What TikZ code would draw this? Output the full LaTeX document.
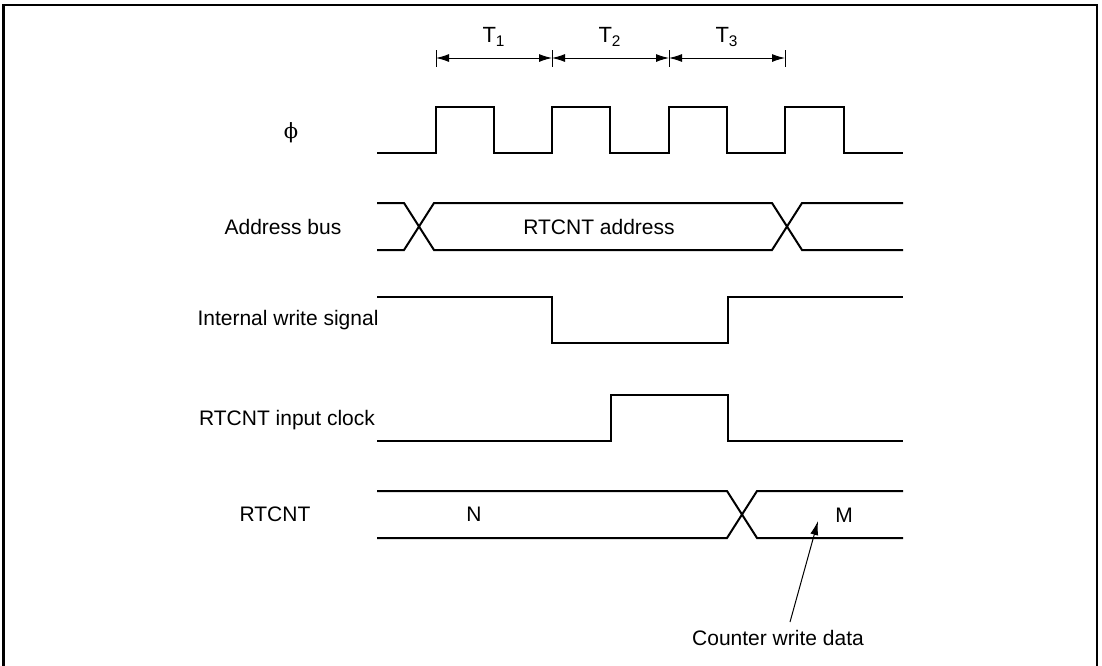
\documentclass[tikz,border=0pt]{standalone}
\usepackage{fontspec}
\setmainfont{Liberation Sans}
\newfontfamily\phifont{DejaVu Serif}
\usetikzlibrary{arrows.meta}
\begin{document}
\begin{tikzpicture}[x=0.5pt,y=-0.5pt,
  sig/.style={line width=1pt,line join=miter},
  lbl/.style={inner sep=0pt,font=\fontsize{10.5}{12}\selectfont},
  tlbl/.style={inner sep=0pt,font=\fontsize{11}{13}\selectfont},
  dim/.style={line width=0.5pt,{Latex[length=6.5pt,width=4pt]}-{Latex[length=6.5pt,width=4pt]}},
  tick/.style={line width=0.5pt},
  frame/.style={line width=1.1pt}]
\useasboundingbox (0,0) rectangle (1102,665);
% frame
\draw[frame] (3.5,680) -- (3.5,5) -- (1097,5) -- (1097,680);
% period markers
\foreach \x/\n in {436/a,552/b,669/c,785/d}{
  \coordinate (t\n top) at (\x,50);
  \coordinate (t\n) at (\x,58);
  \coordinate (t\n bot) at (\x,67);
  \draw[tick] (t\n top) -- (t\n bot);
}
\draw[dim] (ta) -- (tb);
\draw[dim] (tb) -- (tc);
\draw[dim] (tc) -- (td);
\node[tlbl] (T1) at (494,37) {T\textsubscript{1}};
\node[tlbl] (T2) at (610,37) {T\textsubscript{2}};
\node[tlbl] (T3) at (727,37) {T\textsubscript{3}};
% labels
\node[lbl] (phi) at (291,133) {\phifont ϕ};
\node[lbl] (abus) at (283,227) {Address bus};
\node[lbl] (iws) at (288,320) {Internal write signal};
\node[lbl] (ick) at (287,420) {RTCNT input clock};
\node[lbl] (rtc) at (275,514) {RTCNT};
% phi clock
\draw[sig] (377,153) -- (436,153) -- (436,107) -- (494,107) -- (494,153) -- (552,153) -- (552,107) -- (610,107) -- (610,153) -- (669,153) -- (669,107) -- (727,107) -- (727,153) -- (785,153) -- (785,107) -- (844,107) -- (844,153) -- (903,153);
% address bus
\draw[sig] (377,203) -- (404,203) -- (434,250) -- (772,250) -- (802,203) -- (903,203);
\draw[sig] (377,250) -- (404,250) -- (434,203) -- (772,203) -- (802,250) -- (903,250);
\node[lbl] (addr) at (599,227) {RTCNT address};
% internal write signal
\draw[sig] (377,297) -- (552,297) -- (552,343) -- (728,343) -- (728,297) -- (903,297);
% RTCNT input clock
\draw[sig] (377,441) -- (611,441) -- (611,395) -- (728,395) -- (728,441) -- (903,441);
% RTCNT
\draw[sig] (377,491) -- (727,491) -- (757,538) -- (903,538);
\draw[sig] (377,538) -- (727,538) -- (757,491) -- (903,491);
\node[lbl] (N) at (474,514) {N};
\node[lbl] (M) at (844,515) {M};
% counter write data
\node[lbl] (cwd) at (778,638) {Counter write data};
\coordinate (cwdtip) at (818,521);
\draw[line width=0.5pt,-{Latex[length=7pt,width=4pt]}] (790,622) -- (cwdtip);
\end{tikzpicture}
\end{document}
